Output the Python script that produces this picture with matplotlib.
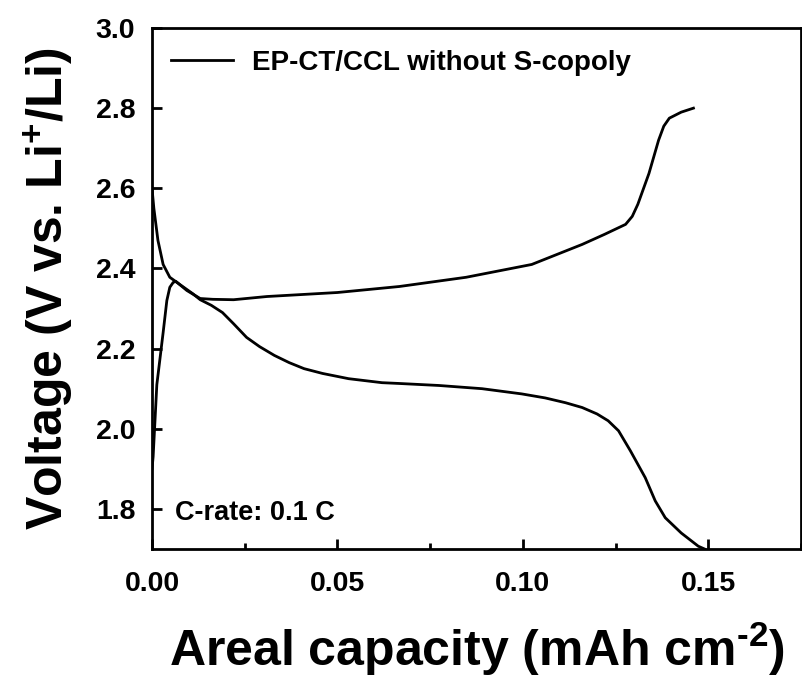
import matplotlib
matplotlib.use("Agg")
import matplotlib.pyplot as plt
from matplotlib.ticker import MultipleLocator

plt.rcParams['font.family'] = ['Liberation Sans', 'DejaVu Sans']
plt.rcParams['font.weight'] = 'bold'
plt.rcParams['mathtext.fontset'] = 'custom'
plt.rcParams['mathtext.rm'] = 'Liberation Sans:bold'
plt.rcParams['mathtext.default'] = 'rm'

# discharge branch (areal capacity, voltage)
dis_cap = [0.0, 0.0005, 0.0016, 0.003, 0.0048, 0.0075, 0.011, 0.013, 0.016, 0.019,
           0.022, 0.0255, 0.029, 0.033, 0.037, 0.041, 0.046, 0.053, 0.062, 0.0667,
           0.0774, 0.089, 0.0997, 0.106, 0.1115, 0.116, 0.120, 0.123, 0.1258,
           0.129, 0.133, 0.1357, 0.1384, 0.1427, 0.1473, 0.149]
dis_v = [2.60, 2.55, 2.47, 2.41, 2.378, 2.36, 2.337, 2.322, 2.308, 2.29,
         2.262, 2.228, 2.205, 2.183, 2.165, 2.15, 2.138, 2.125, 2.115, 2.113,
         2.108, 2.10, 2.087, 2.077, 2.065, 2.053, 2.037, 2.02, 1.995,
         1.945, 1.878, 1.82, 1.778, 1.74, 1.707, 1.70]

# charge branch
chg_cap = [0.0, 0.0003, 0.0013, 0.003, 0.004, 0.0048, 0.0057, 0.0064, 0.0094,
           0.013, 0.0164, 0.022, 0.031, 0.05, 0.0667, 0.0847, 0.1024, 0.116,
           0.122, 0.1277, 0.1295, 0.131, 0.134, 0.1366, 0.138, 0.1395, 0.1427,
           0.146]
chg_v = [1.90, 1.93, 2.11, 2.24, 2.32, 2.353, 2.365, 2.368, 2.345,
         2.325, 2.323, 2.322, 2.33, 2.34, 2.355, 2.378, 2.41, 2.46,
         2.485, 2.51, 2.53, 2.56, 2.637, 2.72, 2.755, 2.775, 2.79, 2.80]

series_label = 'EP-CT/CCL without S-copoly'

fig = plt.figure(figsize=(8.03, 6.86), dpi=100)
ax = fig.add_axes([0.1893, 0.1997, 0.8082, 0.7595])

ax.plot(dis_cap, dis_v, color='black', lw=2.0, label=series_label)
ax.plot(chg_cap, chg_v, color='black', lw=2.0)

ax.set_xlim(0, 0.175)
ax.set_ylim(1.7, 3.0)
ax.xaxis.set_major_locator(MultipleLocator(0.05))
ax.xaxis.set_minor_locator(MultipleLocator(0.025))
ax.yaxis.set_major_locator(MultipleLocator(0.2))
ax.xaxis.set_major_formatter(plt.FormatStrFormatter('%.2f'))
ax.yaxis.set_major_formatter(plt.FormatStrFormatter('%.1f'))

ax.tick_params(axis='both', which='major', direction='in', length=7, width=2,
               labelsize=20.5, pad=12)
ax.tick_params(axis='x', which='major', pad=16)
ax.tick_params(axis='x', which='minor', direction='in', length=4, width=2)
ax.tick_params(top=False, right=False)
for sp in ax.spines.values():
    sp.set_linewidth(2)

ax.set_xlabel(r'Areal capacity (mAh cm$^{\text{-}2}$)', fontsize=36,
              fontweight='bold', labelpad=16)
ax.set_ylabel('Voltage (V vs. Li$^{+}$/Li)', fontsize=36, fontweight='bold',
              labelpad=14)

ax.legend(loc='upper left', frameon=False, fontsize=20, handlelength=2.2,
          handletextpad=0.7, borderaxespad=0.3, bbox_to_anchor=(0.0, 0.995))
ax.text(0.035, 0.055, 'C-rate: 0.1 C', transform=ax.transAxes, fontsize=19.5,
        fontweight='bold')

fig.savefig('out.png', dpi=100)
